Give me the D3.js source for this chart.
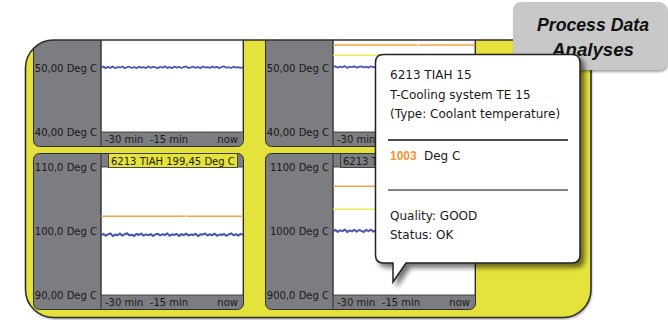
<!DOCTYPE html>
<html><head><meta charset="utf-8">
<script src="https://cdn.jsdelivr.net/npm/d3@7"></script>
<style>body{margin:0;background:#fff}svg{display:block}</style>
</head><body>
<script>
// ---------- DATA ----------
const timeDomain = [-30, 0];
const xTickValues = [-30, -15, 0];
const xTickLabels = ["-30 min", "-15 min", "now"];

// headers of the top row are hidden above the frame edge
const panelTitles = ["", "", "6213 TIAH 199,45 Deg C", "6213 TIAH 1003 Deg C"];
const yDomains = [[40, 60], [40, 60], [90, 110], [900, 1100]];
const yTickValues = [[40, 50], [40, 50], [90, 100, 110], [900, 1000, 1100]];
const yTickLabels = [
  ["40,00 Deg C", "50,00 Deg C"],
  ["40,00 Deg C", "50,00 Deg C"],
  ["90,00 Deg C", "100,0 Deg C", "110,0 Deg C"],
  ["900,0 Deg C", "1000 Deg C", "1100 Deg C"]
];

// high limit (orange) and warning limit (yellow) per panel
const limitTimes = [-30, -12.1, -11.9, 0];
const orangeLimits = [null, [53.6, 53.6, 53.6, 53.6], [102.3, 102.3, 102.3, 102.3], [1070, 1070, 1070, 1070]];
const orangeGaps = [false, true, true, false];
const yellowLimits = [null, [52.0, 52.0, 52.0, 52.0], null, [1034, 1034, 1034, 1034]];

const traceA = [50.05,50.22,49.98,50.18,50.02,50.25,49.95,50.15,50.08,50.24,49.97,50.12,50.20,50.00,50.16,49.96,50.21,50.06,50.14,49.99,50.23,50.03,50.17,50.10,49.98,50.19,50.04,50.26,50.01,50.13,49.97,50.22,50.07,50.18,50.00,50.15,50.24,49.99,50.11,50.20,50.03,50.17,49.96,50.23,50.08,50.14,50.02,50.21,50.05,50.19,49.98,50.16,50.25,50.04,50.12,50.00,50.20,50.07,50.15,50.01,50.10];
const traceB = [50.10,50.28,50.05,50.22,50.12,50.30,50.02,50.20,50.15,50.27,50.06,50.18,50.25,50.08,50.21,50.03,50.26,50.13,50.19,50.07,50.29,50.11,50.23,50.16,50.04,50.24,50.09,50.27,50.14,50.20,50.05,50.28,50.12,50.22,50.08,50.25,50.17,50.03,50.21,50.26,50.10,50.19,50.06,50.24,50.13,50.18,50.09,50.27,50.11,50.23,50.04,50.20,50.29,50.08,50.17,50.12,50.25,50.07,50.21,50.14,50.16];
const traceC = [99.30,99.55,99.25,99.48,99.62,99.20,99.45,99.35,99.58,99.28,99.50,99.66,99.32,99.42,99.22,99.55,99.38,99.60,99.27,99.47,99.33,99.52,99.24,99.44,99.57,99.31,99.49,99.36,99.63,99.26,99.46,99.40,99.54,99.23,99.51,99.34,99.59,99.29,99.45,99.37,99.56,99.21,99.48,99.43,99.61,99.30,99.50,99.35,99.58,99.27,99.44,99.39,99.53,99.25,99.47,99.62,99.33,99.49,99.28,99.55,99.41];
const traceD = [999.0,1001.8,998.6,1001.2,999.8,1002.4,998.2,1000.9,999.4,1002.0,998.8,1001.5,1000.2,998.4,1001.9,999.6,1002.3,998.9,1000.6,999.1,1001.7,998.5,1001.0,999.9,1002.2,998.7,1001.4,999.3,1000.8,998.3,1002.1,999.7,1001.3,998.6,1000.5,1001.9,999.2,1001.6,998.9,1000.3,1002.4,999.0,1001.1,998.4,1000.7,1001.8,999.5,1002.0,998.8,1000.9,999.3,1001.6,998.6,1001.2,999.8,1002.3,998.7,1000.4,1001.5,999.1,1000.6];
const traces = [traceA, traceB, traceC, traceD];

const tooltipLines = ["6213 TIAH 15", "T-Cooling system TE 15", "(Type: Coolant temperature)"];
const tooltipValue = "1003";
const tooltipUnit = "Deg C";
const tooltipStatus = ["Quality: GOOD", "Status: OK"];
const titleLines = ["Process Data", "Analyses"];

// ---------- LAYOUT ----------
const W = 668, H = 320;
const YELLOW = "#e5e33b", GRAY = "#7b7d81", DARK = "#2e2e2e";
const frame = {x: 25.5, y: 40, w: 565.5, h: 277.5, r: 28};
const colX = [33, 265], rowY = [-10, 153];
const panelW = 210, panelH = 156, axisW = 68, headH = 14, stripH = 14;
const plotH = panelH - headH - stripH;

const svg = d3.select("body").append("svg").attr("width", W).attr("height", H);
svg.append("rect").attr("width", W).attr("height", H).attr("fill", "#fff");
const defs = svg.append("defs");
defs.append("clipPath").attr("id", "frameClip").append("rect")
  .attr("x", frame.x).attr("y", frame.y).attr("width", frame.w).attr("height", frame.h).attr("rx", frame.r);
const f1 = defs.append("filter").attr("id", "shadow").attr("x", "-10%").attr("y", "-10%").attr("width", "130%").attr("height", "130%");
f1.append("feDropShadow").attr("dx", 4).attr("dy", 4).attr("stdDeviation", 2.5).attr("flood-color", "#000").attr("flood-opacity", 0.55);
const f2 = defs.append("filter").attr("id", "shadowSoft").attr("x", "-10%").attr("y", "-10%").attr("width", "130%").attr("height", "130%");
f2.append("feDropShadow").attr("dx", 1).attr("dy", 2).attr("stdDeviation", 1.2).attr("flood-color", "#000").attr("flood-opacity", 0.35);

// frame
svg.append("rect").attr("x", frame.x).attr("y", frame.y).attr("width", frame.w).attr("height", frame.h)
  .attr("rx", frame.r).attr("fill", YELLOW).attr("filter", "url(#shadowSoft)");

const inner = svg.append("g").attr("clip-path", "url(#frameClip)");

const panels = [{c: 0, r: 0}, {c: 1, r: 0}, {c: 0, r: 1}, {c: 1, r: 1}];
const headerFill = [GRAY, GRAY, YELLOW, GRAY];
const traceWidth = [1.8, 1.8, 2.1, 2.0];

panels.forEach((p, i) => {
  const px = colX[p.c], py = rowY[p.r];
  const g = inner.append("g");
  const plotX0 = px + axisW, plotX1 = px + panelW;
  const plotY0 = py + headH, plotY1 = py + headH + plotH;
  const x = d3.scaleLinear().domain(timeDomain).range([plotX0, plotX1]);
  const y = d3.scaleLinear().domain(yDomains[i]).range([plotY1, plotY0]);

  g.append("rect").attr("x", px + 0.5).attr("y", py + 0.5).attr("width", panelW).attr("height", panelH)
    .attr("rx", 6).attr("fill", GRAY).attr("stroke", DARK).attr("stroke-width", 1);
  g.append("rect").attr("x", plotX0).attr("y", plotY0).attr("width", plotX1 - plotX0).attr("height", plotH)
    .attr("fill", "#fff").attr("stroke", DARK).attr("stroke-width", 0.8);
  g.append("line").attr("x1", plotX0).attr("x2", plotX0).attr("y1", py).attr("y2", py + panelH)
    .attr("stroke", DARK).attr("stroke-width", 1);

  // header label
  if (panelTitles[i]) {
    g.append("rect").attr("x", px + 75.5).attr("y", py + 0.5).attr("width", 129).attr("height", headH)
      .attr("fill", headerFill[i]).attr("stroke", DARK).attr("stroke-width", 0.8);
    g.append("text").attr("x", px + 78).attr("y", py + 11.5).text(panelTitles[i])
      .attr("font-family", "DejaVu Sans").attr("font-size", 10).attr("fill", "#1a1a1a");
  }

  // limits
  const lineGen = d3.line().defined(d => d[1] != null).x(d => x(d[0])).y(d => y(d[1]));
  if (orangeLimits[i]) {
    const pts = limitTimes.map((t, k) => [t, orangeLimits[i][k]]);
    const segs = orangeGaps[i] ? [pts.slice(0, 2), pts.slice(2)] : [[pts[0], pts[3]]];
    segs.forEach(s => g.append("path").attr("d", lineGen(s)).attr("fill", "none")
      .attr("stroke", "#f7a043").attr("stroke-width", 1.4));
  }
  if (yellowLimits[i]) {
    const pts = limitTimes.map((t, k) => [t, yellowLimits[i][k]]);
    g.append("path").attr("d", lineGen(pts)).attr("fill", "none")
      .attr("stroke", "#f0ea55").attr("stroke-width", 1.4);
  }
  // trace
  const vals = traces[i];
  const tp = vals.map((v, k) => [timeDomain[0] + (timeDomain[1] - timeDomain[0]) * k / (vals.length - 1), v]);
  g.append("path").attr("d", lineGen(tp)).attr("fill", "none")
    .attr("stroke", "#4b57ad").attr("stroke-width", traceWidth[i]).attr("stroke-linejoin", "round");

  // y axis
  const ax = g.append("g").attr("transform", `translate(${plotX0},0)`)
    .call(d3.axisLeft(y).tickValues(yTickValues[i]).tickSize(0).tickPadding(4)
      .tickFormat((d, k) => yTickLabels[i][k]));
  ax.select(".domain").remove();
  ax.selectAll("text").attr("font-family", "DejaVu Sans").attr("font-size", 10).attr("fill", "#1a1a1a");

  // x axis labels
  const anchors = ["start", "middle", "end"], dxs = [4, -3, -5];
  xTickValues.forEach((t, k) => {
    g.append("text").attr("x", x(t) + dxs[k]).attr("y", plotY1 + 11)
      .attr("text-anchor", anchors[k]).text(xTickLabels[k])
      .attr("font-family", "DejaVu Sans").attr("font-size", 10).attr("fill", "#1a1a1a");
  });
});

// frame border
svg.append("rect").attr("x", frame.x).attr("y", frame.y).attr("width", frame.w).attr("height", frame.h)
  .attr("rx", frame.r).attr("fill", "none").attr("stroke", DARK).attr("stroke-width", 1.6);

// title box
svg.append("rect").attr("x", 513).attr("y", 2).attr("width", 154).attr("height", 68).attr("rx", 8)
  .attr("fill", "#c8c8c8").attr("filter", "url(#shadowSoft)");
titleLines.forEach((t, k) => {
  svg.append("text").attr("x", 593).attr("y", 31 + k * 25).attr("text-anchor", "middle").text(t)
    .attr("font-family", "'Liberation Sans Narrow', 'Arial Narrow', 'Liberation Sans', sans-serif")
    .attr("font-weight", "bold").attr("font-style", "italic").attr("font-size", 19).attr("fill", "#111")
    .attr("textLength", k === 0 ? 112 : 82).attr("lengthAdjust", "spacingAndGlyphs");
});

// tooltip
const L = 375.5, T = 54.5, R = 580, B = 263, rr = 8, tx1 = 393, tx2 = 406, tipY = 282;
const tipPath = `M${L + rr},${T} H${R - rr} Q${R},${T} ${R},${T + rr} V${B - rr} Q${R},${B} ${R - rr},${B} H${tx2} L${tx1},${tipY} V${B} H${L + rr} Q${L},${B} ${L},${B - rr} V${T + rr} Q${L},${T} ${L + rr},${T} Z`;
svg.append("path").attr("d", tipPath).attr("fill", "#fff").attr("stroke", "#222").attr("stroke-width", 1.5)
  .attr("filter", "url(#shadow)");
const tf = "DejaVu Sans";
tooltipLines.forEach((t, k) => {
  svg.append("text").attr("x", 390).attr("y", 79 + k * 19.5).text(t)
    .attr("font-family", tf).attr("font-size", 12).attr("fill", "#1a1a1a");
});
svg.append("line").attr("x1", 388).attr("x2", 568).attr("y1", 140).attr("y2", 140).attr("stroke", "#111").attr("stroke-width", 1.3);
svg.append("text").attr("x", 390).attr("y", 159.5).text(tooltipValue)
  .attr("font-family", "'Liberation Sans', Arial, sans-serif").attr("font-size", 12)
  .attr("font-weight", "bold").attr("fill", "#f39232");
svg.append("text").attr("x", 424).attr("y", 159.5).text(tooltipUnit)
  .attr("font-family", tf).attr("font-size", 12).attr("fill", "#1a1a1a");
svg.append("line").attr("x1", 388).attr("x2", 568).attr("y1", 190).attr("y2", 190).attr("stroke", "#5a5a5a").attr("stroke-width", 1.5);
tooltipStatus.forEach((t, k) => {
  svg.append("text").attr("x", 390).attr("y", 220 + k * 19).text(t)
    .attr("font-family", tf).attr("font-size", 12).attr("fill", "#1a1a1a");
});
</script>
</body></html>
